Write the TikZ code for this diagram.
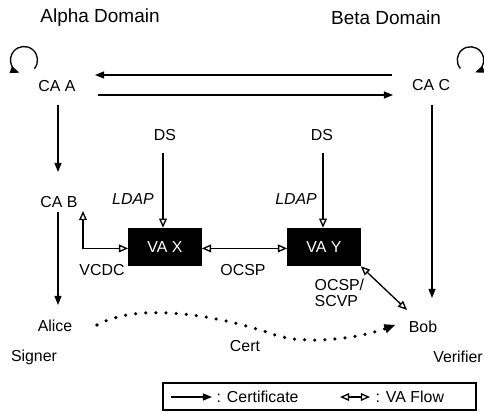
\documentclass[tikz,border=0pt]{standalone}
\usepackage{fontspec}
\setmainfont{Liberation Sans}
\usepackage{tikz}
\usetikzlibrary{positioning,arrows.meta}

\begin{document}
\begin{tikzpicture}[x=0.025cm,y=0.025cm,
  lbl/.style={inner sep=1pt,font=\fontsize{11.3}{13}\selectfont},
  dom/.style={inner sep=1pt,font=\fontsize{13.5}{15}\selectfont},
  ldap/.style={inner sep=1pt,font=\fontsize{11.3}{13}\selectfont\itshape},
  vabox/.style={fill=black,text=white,minimum width=1.83cm,minimum height=0.95cm,inner sep=0pt,font=\fontsize{11.3}{13}\selectfont},
  cert/.style={line width=0.95pt,>={Triangle[length=6.5pt,width=5pt]},->},
  vain/.style={line width=0.95pt,>={Triangle[open,length=6.5pt,width=5.5pt]},->},
  vaflow/.style={line width=0.95pt,>={Triangle[open,length=6.5pt,width=5.5pt]},<->},
  certdots/.style={line width=2.5pt,line cap=round,dash pattern=on 0pt off 7.2pt,
    >={Triangle[length=7.5pt,width=6.5pt,line width=0.4pt]},->}]
  \useasboundingbox (0,0) rectangle (484,-412);
  % domains
  \node[dom] (alpha) at (100,-18) {Alpha Domain};
  \node[dom] (beta) at (386,-18) {Beta Domain};
  % CAs and end entities
  \node[lbl] (caA) at (57,-86) {CA A};
  \node[lbl] (caC) at (431,-85) {CA C};
  \node[lbl] (caB) at (59,-202) {CA B};
  \node[lbl] (alice) at (55,-326) {Alice};
  \node[lbl] (bob) at (423,-327) {Bob};
  \node[lbl] (signer) at (34,-357) {Signer};
  \node[lbl] (verifier) at (458,-357) {Verifier};
  % directories and validation authorities
  \node[lbl] (dsX) at (165,-135) {DS};
  \node[lbl] (dsY) at (322,-135) {DS};
  \node[vabox] (vaX) at (165,-247) {VA X};
  \node[vabox] (vaY) at (324,-247) {VA Y};
  \node[ldap] (ldapX) at (133,-199) {LDAP};
  \node[ldap] (ldapY) at (296,-199) {LDAP};
  \node[lbl] (vcdc) at (102,-270) {VCDC};
  \node[lbl] (ocspX) at (243,-270) {OCSP};
  \node[lbl,align=left,anchor=west,font=\fontsize{11.3}{11.5}\selectfont] (ocspY) at (313,-293) {OCSP/\\SCVP};
  \node[lbl] (cert) at (245,-346) {Cert};
  % certificate paths
  \draw[cert] ([shift={(-39,10)}]caC.center) -- ([shift={(38,11)}]caA.center);
  \draw[cert] ([shift={(41,-9)}]caA.center) -- ([shift={(-38,-10)}]caC.center);
  \draw[cert] ([shift={(1,-19)}]caA.center) -- ([shift={(-1,30)}]caB.center);
  \draw[cert] ([shift={(-1,-10)}]caB.center) -- ([shift={(3,21)}]alice.center);
  \draw[cert] ([shift={(1,-20)}]caC.center) -- ([shift={(9,29)}]bob.center);
  \coordinate (loopA) at ([shift={(-33,26)}]caA.center);
  \coordinate (loopC) at ([shift={(39.5,25)}]caC.center);
  \draw[cert] ([shift={(-40:9.6pt)}]loopA) arc[start angle=-40,end angle=250,radius=9.6pt];
  \draw[cert] ([shift={(220:9.4pt)}]loopC) arc[start angle=220,end angle=-70,radius=9.4pt];
  % VA flows
  \draw[vain] ([shift={(-2,-18)}]dsX.center) -- ([shift={(-2,0)}]vaX.north);
  \draw[vain] ([shift={(1,-18)}]dsY.center) -- ([shift={(-1,0)}]vaY.north);
  \draw[vaflow] ([yshift=-1pt]vaX.east) -- ([yshift=-1pt]vaY.west);
  \coordinate (vcdcEnd) at (83,-211);
  \draw[vaflow] (vcdcEnd) |- ([yshift=-1pt]vaX.west);
  \draw[vaflow] (vaY.south east) -- ([shift={(-16,17)}]bob.center);
  % signed document
  \draw[certdots] ([shift={(42,1)}]alice.center) .. controls (145,-298) and (240,-322) .. (272,-334)
    .. controls (304,-346) and (360,-338) .. ([shift={(-28,2)}]bob.center);
  % legend
  \node[draw,line width=0.8pt,minimum width=7.825cm,minimum height=0.675cm,inner sep=0pt] (legend) at (319.5,-396.5) {};
  \coordinate (lgA) at (171,-397);
  \coordinate (lgB) at (212,-397);
  \draw[cert] (lgA) -- (lgB);
  \node[lbl,anchor=west] (lgCert) at (215,-397) {: Certificate};
  \coordinate (lgC) at (340,-397);
  \coordinate (lgD) at (370,-397);
  \draw[vaflow] (lgC) -- (lgD);
  \node[lbl,anchor=west] (lgVA) at (374,-397) {: VA Flow};
\end{tikzpicture}
\end{document}
